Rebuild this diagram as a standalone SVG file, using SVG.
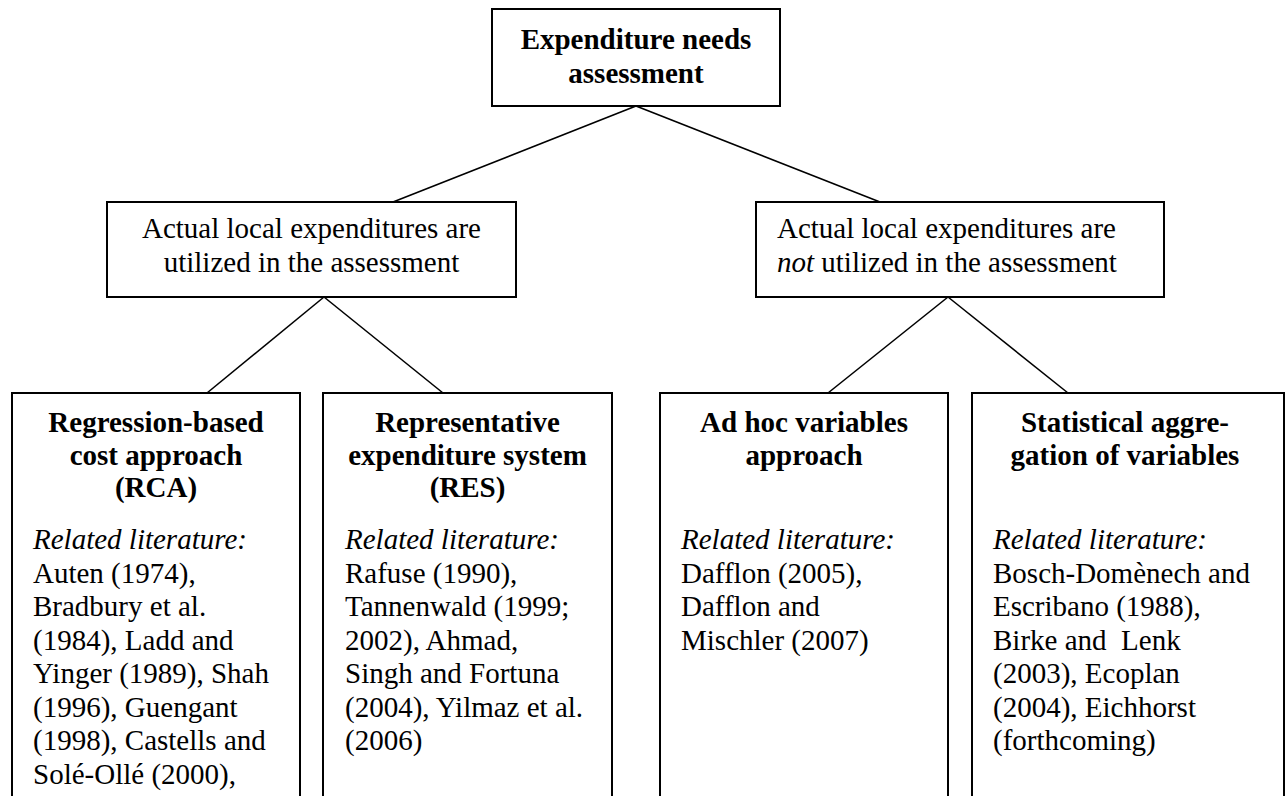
<svg xmlns="http://www.w3.org/2000/svg" width="1285" height="796" viewBox="0 0 1285 796">
<style>
text{font-family:"Liberation Serif","Times New Roman",serif;font-size:29px;fill:#000}
.b{font-weight:bold}
.c{text-anchor:middle}
.i{font-style:italic}
rect{fill:#fff;stroke:#000;stroke-width:2}
.conn line{stroke:#000;stroke-width:1.6}
</style>
<rect x="0" y="0" width="1285" height="796" style="stroke:none"/>
<g class="conn" id="connectors">
<line x1="636" y1="106" x2="393" y2="202"/>
<line x1="636" y1="106" x2="880" y2="202"/>
<line x1="324" y1="297" x2="207" y2="393"/>
<line x1="324" y1="297" x2="443" y2="393"/>
<line x1="948" y1="297" x2="828" y2="393"/>
<line x1="948" y1="297" x2="1068" y2="393"/>
</g>
<g id="root">
<rect x="492" y="9" width="288" height="97"/>
<text class="b c" x="636" y="49">Expenditure needs</text>
<text class="b c" x="636" y="82.5">assessment</text>
</g>
<g id="actual-used">
<rect x="107" y="202" width="409" height="95"/>
<text class="c" x="311.5" y="238">Actual local expenditures are</text>
<text class="c" x="311.5" y="271.5">utilized in the assessment</text>
</g>
<g id="actual-not-used">
<rect x="756" y="202" width="408" height="95"/>
<text x="777" y="238">Actual local expenditures are</text>
<text x="777" y="271.5"><tspan class="i">not</tspan> utilized in the assessment</text>
</g>
<g id="rca">
<rect x="12" y="393" width="288" height="420"/>
<text class="b c" x="156" y="432">Regression-based</text>
<text class="b c" x="156" y="465">cost approach</text>
<text class="b c" x="156" y="497">(RCA)</text>
<text class="i" x="33" y="549">Related literature:</text>
<text x="33" y="582.5">Auten (1974),</text>
<text x="33" y="616">Bradbury et al.</text>
<text x="33" y="649.5">(1984), Ladd and</text>
<text x="33" y="683">Yinger (1989), Shah</text>
<text x="33" y="716.5">(1996), Guengant</text>
<text x="33" y="750">(1998), Castells and</text>
<text x="33" y="783.5">Solé-Ollé (2000),</text>
</g>
<g id="res">
<rect x="323" y="393" width="289" height="420"/>
<text class="b c" x="467.5" y="432">Representative</text>
<text class="b c" x="467.5" y="465">expenditure system</text>
<text class="b c" x="467.5" y="497">(RES)</text>
<text class="i" x="345" y="549">Related literature:</text>
<text x="345" y="582.5">Rafuse (1990),</text>
<text x="345" y="616">Tannenwald (1999;</text>
<text x="345" y="649.5">2002), Ahmad,</text>
<text x="345" y="683">Singh and Fortuna</text>
<text x="345" y="716.5">(2004), Yilmaz et al.</text>
<text x="345" y="750">(2006)</text>
</g>
<g id="adhoc">
<rect x="660" y="393" width="288" height="420"/>
<text class="b c" x="804" y="432">Ad hoc variables</text>
<text class="b c" x="804" y="465">approach</text>
<text class="i" x="681" y="549">Related literature:</text>
<text x="681" y="582.5">Dafflon (2005),</text>
<text x="681" y="616">Dafflon and</text>
<text x="681" y="649.5">Mischler (2007)</text>
</g>
<g id="statistical">
<rect x="972" y="393" width="312" height="420"/>
<text class="b c" x="1125" y="432">Statistical aggre-</text>
<text class="b c" x="1125" y="465">gation of variables</text>
<text class="i" x="993" y="549">Related literature:</text>
<text x="993" y="582.5">Bosch-Domènech and</text>
<text x="993" y="616">Escribano (1988),</text>
<text x="993" y="649.5" xml:space="preserve">Birke and  Lenk</text>
<text x="993" y="683">(2003), Ecoplan</text>
<text x="993" y="716.5">(2004), Eichhorst</text>
<text x="993" y="750">(forthcoming)</text>
</g>
</svg>
